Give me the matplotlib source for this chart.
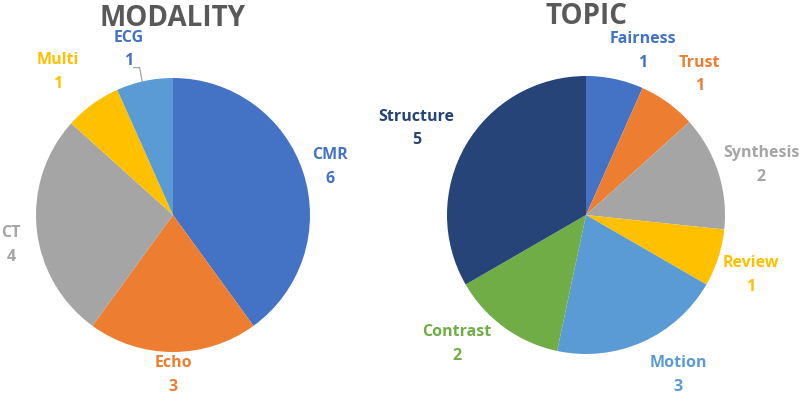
import numpy as np
import matplotlib
matplotlib.use('Agg')
import matplotlib.pyplot as plt

# ============================================================
# DATA
# ============================================================
modality_labels = ['CMR', 'Echo', 'CT', 'Multi', 'ECG']
modality_counts = [6, 3, 4, 1, 1]
modality_colors = ['#4472C4', '#ED7D31', '#A5A5A5', '#FFC000', '#5B9BD5']
modality_text_colors = ['#4472C4', '#ED7D31', '#A5A5A5', '#FFC000', '#4472C4']

topic_labels = ['Fairness', 'Trust', 'Synthesis', 'Review', 'Motion', 'Contrast', 'Structure']
topic_counts = [1, 1, 2, 1, 3, 2, 5]
topic_colors = ['#4472C4', '#ED7D31', '#A5A5A5', '#FFC000', '#5B9BD5', '#70AD47', '#264478']

# label placement: (radial distance factor, angle nudge in degrees)
modality_lab = [(1.20, -1), (1.17, 0), (1.20, 4.5), (1.34, 3), (1.25, 3)]
topic_lab = [(1.25, -7), (1.30, -3), (1.31, -2), (1.26, -2), (1.33, 6), (1.31, -9), (1.37, 3)]

FONT = ['Open Sans', 'DejaVu Sans']
TITLE_COLOR = '#595959'


def draw_pie(ax, center, radius, counts, labels, colors, lab_pos,
             text_colors=None, leader=None):
    if text_colors is None:
        text_colors = colors
    wedges, _ = ax.pie(counts, colors=colors, startangle=90, counterclock=False,
                       center=center, radius=radius,
                       wedgeprops=dict(linewidth=0))
    for i, w in enumerate(wedges):
        mid = (w.theta1 + w.theta2) / 2.0
        dist, nudge = lab_pos[i]
        ang = np.deg2rad(mid + nudge)
        tx = center[0] + dist * radius * np.cos(ang)
        ty = center[1] + dist * radius * np.sin(ang)
        ax.text(tx, ty, f"{labels[i]}\n{counts[i]}", ha='center', va='center',
                fontsize=11.5, fontweight='bold', color=text_colors[i],
                family=FONT, linespacing=1.65)
        if leader is not None and i == leader:
            ea = np.deg2rad(mid + 1)
            ex = center[0] + radius * np.cos(ea)
            ey = center[1] + radius * np.sin(ea)
            ax.plot([tx + 5, tx + 11, ex], [ty - 18, ty - 18, ey],
                    color='#A6A6A6', lw=0.9)


fig = plt.figure(figsize=(8.1, 3.96), dpi=100)
ax = fig.add_axes([0, 0, 1, 1])

draw_pie(ax, (173, 181), 137, modality_counts, modality_labels, modality_colors,
         modality_lab, text_colors=modality_text_colors, leader=4)
draw_pie(ax, (586, 181), 139, topic_counts, topic_labels, topic_colors, topic_lab)

ax.text(173, 377, 'MODALITY', ha='center', va='center', fontsize=20,
        fontweight='bold', color=TITLE_COLOR, family=FONT)
ax.text(586, 379, 'TOPIC', ha='center', va='center', fontsize=20,
        fontweight='bold', color=TITLE_COLOR, family=FONT)

ax.set_xlim(0, 810)
ax.set_ylim(0, 396)
ax.set_aspect('equal')
ax.axis('off')

fig.savefig('out.png', dpi=100, facecolor='white')
plt.close(fig)
